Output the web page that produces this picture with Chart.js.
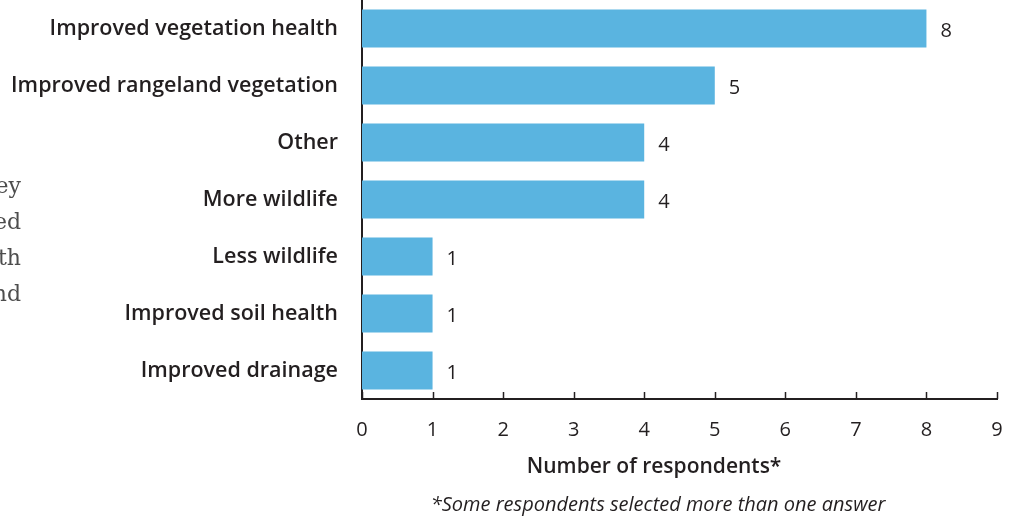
<!DOCTYPE html>
<html>
<head>
<meta charset="utf-8">
<script src="https://cdn.jsdelivr.net/npm/chart.js@4/dist/chart.umd.min.js"></script>
<style>
  html, body { margin: 0; padding: 0; background: #fff; }
  #wrap { position: relative; width: 1011px; height: 516px; }
  #side {
    position: absolute; left: 0; top: 168px; width: 21px; height: 150px; overflow: hidden;
  }
  #side div {
    position: absolute; right: 0; top: 0; white-space: nowrap; text-align: right;
    font-family: "DejaVu Serif", serif; font-size: 22px; color: #4d4d4d; line-height: 36px;
  }
</style>
</head>
<body>
<div id="wrap">
  <canvas id="chart" width="1011" height="516"></canvas>
  <div id="side"><div>ey<br>ed<br>th<br>nd</div></div>
</div>
<script>
const categories = [
  'Improved vegetation health',
  'Improved rangeland vegetation',
  'Other',
  'More wildlife',
  'Less wildlife',
  'Improved soil health',
  'Improved drainage'
];
const respondents = [8, 5, 4, 4, 1, 1, 1];
const xTicks = [0, 1, 2, 3, 4, 5, 6, 7, 8, 9];
const axisTitle = 'Number of respondents*';
const footnote = '*Some respondents selected more than one answer';

const ink = '#231f20';
const barBlue = '#5ab4e0';
const font = '"Open Sans", "Noto Sans", sans-serif';

// little upward ticks on the x axis line
const upTicks = {
  id: 'upTicks',
  afterDraw(chart) {
    const x = chart.scales.x;
    const c = chart.ctx;
    const base = chart.chartArea.bottom;
    c.save();
    c.strokeStyle = ink;
    c.lineWidth = 1.5;
    xTicks.forEach(v => {
      const px = Math.round(x.getPixelForValue(v)) + 0.5;
      c.beginPath();
      c.moveTo(px, base);
      c.lineTo(px, base - 7);
      c.stroke();
    });
    c.restore();
  }
};

// value labels to the right of each bar
const barValues = {
  id: 'barValues',
  afterDatasetsDraw(chart) {
    const c = chart.ctx;
    const meta = chart.getDatasetMeta(0);
    c.save();
    c.font = '20px ' + font;
    c.fillStyle = ink;
    c.textAlign = 'left';
    c.textBaseline = 'middle';
    meta.data.forEach((bar, i) => {
      c.fillText(String(respondents[i]), bar.x + 14, bar.y + 3);
    });
    c.restore();
  }
};

// axis title and footnote, set a little left of the plot centre
const captions = {
  id: 'captions',
  afterDraw(chart) {
    const c = chart.ctx;
    const { left, right } = chart.chartArea;
    const cx = left + (right - left) * 0.46;
    c.save();
    c.fillStyle = ink;
    c.textAlign = 'center';
    c.textBaseline = 'middle';
    c.font = '600 21px ' + font;
    c.fillText(axisTitle, cx, 467);
    c.font = 'italic 20px ' + font;
    c.fillText(footnote, cx + 4, 505);
    c.restore();
  }
};

new Chart(document.getElementById('chart'), {
  type: 'bar',
  data: {
    labels: categories,
    datasets: [{
      data: respondents,
      backgroundColor: barBlue,
      borderWidth: 0,
      barPercentage: 0.67,
      categoryPercentage: 1
    }]
  },
  options: {
    indexAxis: 'y',
    responsive: false,
    animation: false,
    layout: { padding: { top: 0, right: 14, bottom: 0, left: 0 } },
    plugins: {
      legend: { display: false },
      tooltip: { enabled: false }
    },
    scales: {
      x: {
        type: 'linear',
        min: 0,
        max: 9,
        afterBuildTicks: (scale) => { scale.ticks = xTicks.map(v => ({ value: v })); },
        afterFit: (scale) => {
          scale.height = 117;
          scale.paddingLeft = 0;
          scale.paddingRight = 0;
        },
        grid: { display: false, drawTicks: false },
        border: { display: true, color: ink, width: 2 },
        ticks: {
          color: ink,
          padding: 19,
          font: { family: font, size: 20 }
        }
      },
      y: {
        afterFit: (scale) => {
          scale.width = 362;
          scale.paddingTop = 0;
          scale.paddingBottom = 0;
        },
        grid: { display: false, drawTicks: false },
        border: { display: true, color: ink, width: 2 },
        ticks: {
          color: ink,
          padding: 24,
          font: { family: font, size: 21.5, weight: '600' }
        }
      }
    }
  },
  plugins: [upTicks, barValues, captions]
});
</script>
</body>
</html>
